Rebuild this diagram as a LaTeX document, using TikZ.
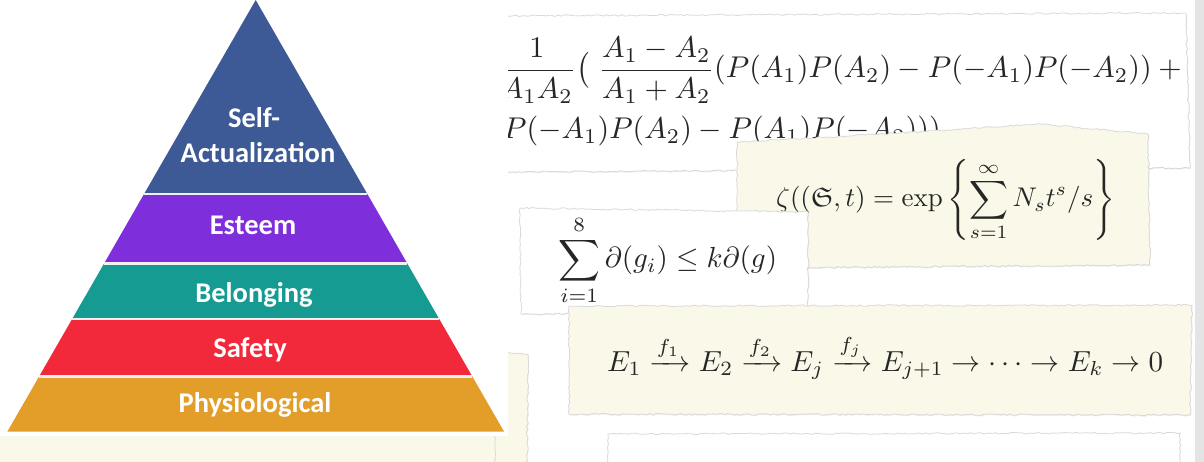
\documentclass[tikz,border=0pt]{standalone}
\usepackage{amsmath,amssymb}
\usepackage{fontspec}
\newfontfamily\pyrfont{Carlito}
\usetikzlibrary{decorations.pathmorphing,shadows}
\definecolor{cream}{RGB}{250,248,232}
\definecolor{stripgray}{RGB}{228,228,228}
\definecolor{selfc}{RGB}{61,90,150}
\definecolor{esteemc}{RGB}{127,46,219}
\definecolor{belongc}{RGB}{22,155,147}
\definecolor{safetyc}{RGB}{242,40,59}
\definecolor{physc}{RGB}{226,158,41}
\pgfmathsetseed{7}
\begin{document}
\begin{tikzpicture}[x=1pt,y=-1pt,
  torn/.style={decorate,decoration={random steps,segment length=3pt,amplitude=0.8pt}},
  scrap/.style={torn,fill=#1,draw=black!15,line width=0.8pt,drop shadow={shadow xshift=0.6pt,shadow yshift=-1pt,opacity=0.14}},
  formula/.style={anchor=base west,inner sep=0pt,text=black!85},
  lbl/.style={anchor=base,inner sep=0pt,text=white,font=\pyrfont\bfseries\fontsize{28.5}{34}\selectfont},
  sep/.style={draw=gray!12,line width=2.2pt}
]
\useasboundingbox (0,0) rectangle (1204,462);
\fill[white] (0,0) rectangle (1204,462);
\fill[stripgray] (1195,0) rectangle (1204,462);
\fill[cream] (0,436) rectangle (510,462);
\path[scrap=cream] (495,353) -- (528,354) -- (527,475) -- (495,475) -- cycle;
% scrap 1
\path[scrap=white] (480,16) -- (1186,13) -- (1190,168) -- (480,172) -- cycle;
\node[formula] (l1) at (497,78) {\scalebox{3.0}{$\displaystyle \frac{1}{A_1A_2}\bigl(\;\frac{A_1-A_2}{A_1+A_2}(P(A_1)P(A_2)-P(-A_1)P(-A_2))+{}$}};
\node[formula] (l2) at (503,139) {\scalebox{3.0}{$P(-A_1)P(A_2)-P(A_1)P(-A_2)))$}};
% scrap 2
\path[scrap=cream] (737,142) -- (900,133) -- (1040,124) -- (1148,134) -- (1150,265) -- (738,268) -- cycle;
\node[formula] (zeta) at (776,207) {\scalebox{2.7}{$\displaystyle \zeta((\mathfrak{S},t)= \exp\left\{\sum_{s=1}^{\infty} N_s t^s/s\right\}$}};
% scrap 3
\path[scrap=white] (520,208) -- (808,212) -- (808,312) -- (521,314) -- cycle;
\node[formula] (sum) at (558,268) {\scalebox{2.9}{$\displaystyle\sum_{i=1}^{8}\partial(g_i)\le k\partial(g)$}};
% scrap 4
\path[scrap=cream] (569,306) -- (1192,305) -- (1190,415) -- (569,414) -- cycle;
\node[formula] (seq) at (607,371) {\scalebox{2.9}{$E_1\xrightarrow{f_1}E_2\xrightarrow{f_2}E_j\xrightarrow{f_j}E_{j+1}\to\dots\to E_k\to 0$}};
% scrap 5
\path[scrap=white] (608,434) -- (1180,433) -- (1180,480) -- (608,480) -- cycle;
% pyramid panel
\fill[white] (0,0) rectangle (508,436);
% pyramid layers
\fill[selfc] (255.7,0) -- (367.2,193.75) -- (144.2,193.75) -- cycle;
\fill[esteemc] (144.2,193.75) -- (367.2,193.75) -- (407.3,263.5) -- (104.1,263.5) -- cycle;
\fill[belongc] (104.1,263.5) -- (407.3,263.5) -- (439.25,319) -- (72.15,319) -- cycle;
\fill[safetyc] (72.15,319) -- (439.25,319) -- (472.34,376.5) -- (39.06,376.5) -- cycle;
\fill[physc] (39.06,376.5) -- (472.34,376.5) -- (504.1,431.7) -- (7.3,431.7) -- cycle;
\draw[sep] (144.2,193.75) -- (367.2,193.75);
\draw[sep] (104.1,263.5) -- (407.3,263.5);
\draw[sep] (72.15,319) -- (439.25,319);
\draw[sep] (39.06,376.5) -- (472.34,376.5);
% labels
\node[lbl] (self1) at (254,128) {Self-};
\node[lbl] (self2) at (258,163) {Actualization};
\node[lbl] (est) at (253,235) {Esteem};
\node[lbl] (bel) at (254,302) {Belonging};
\node[lbl] (saf) at (250,357) {Safety};
\node[lbl] (phy) at (255,412) {Physiological};
\end{tikzpicture}
\end{document}
